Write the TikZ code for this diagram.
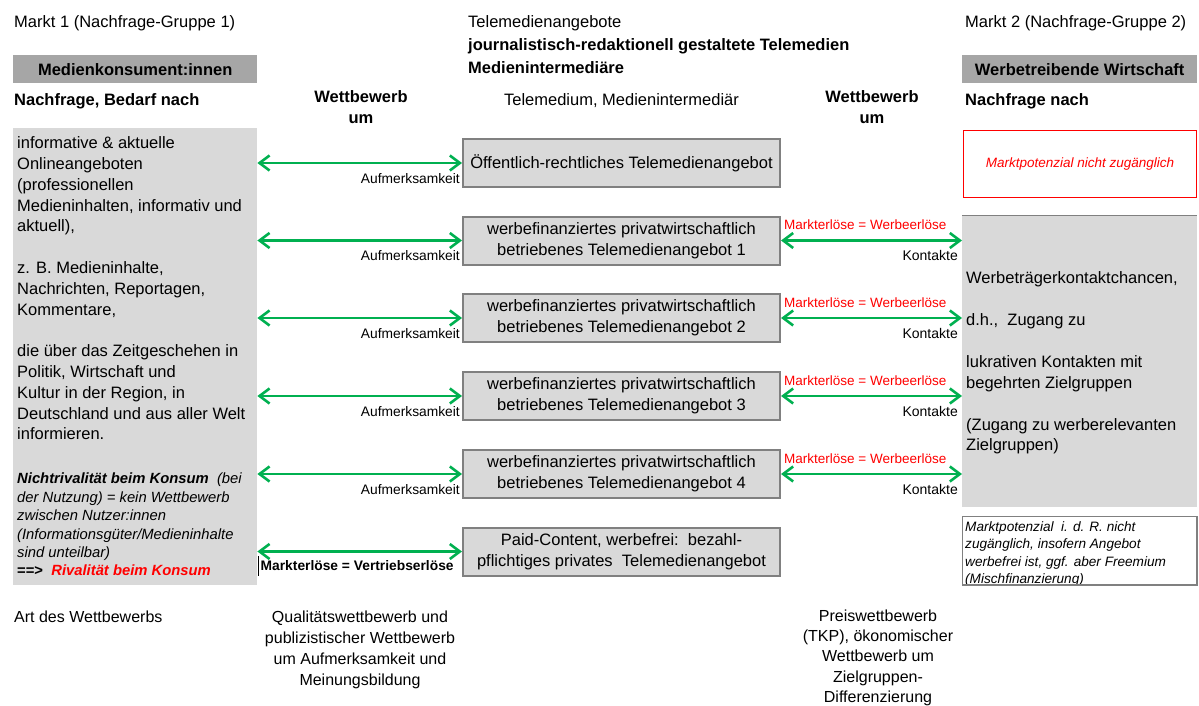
\documentclass[tikz,border=0pt]{standalone}
\usepackage{fontspec}
\setmainfont{Liberation Sans}
\usetikzlibrary{arrows.meta,calc}
\definecolor{ggreen}{HTML}{00B050}
\definecolor{lgray}{HTML}{D9D9D9}
\definecolor{hgray}{HTML}{A6A6A6}
\definecolor{bgray}{HTML}{808080}
\definecolor{mred}{HTML}{FF0000}
\newcommand\fsz[2]{\fontsize{#1}{#2}\selectfont}
\begin{document}
\begin{tikzpicture}[x=1pt,y=-1pt,
  txt/.style={inner sep=0pt, font=\fsz{16.5}{20.8}},
  btxt/.style={inner sep=0pt, font=\fsz{16.5}{21}\bfseries},
  hdr/.style={fill=hgray, minimum width=244pt, minimum height=28pt, inner sep=0pt, font=\fsz{16.5}{20}\bfseries},
  offer/.style={draw=bgray, line width=2pt, fill=lgray, minimum width=317pt, minimum height=48pt, inner sep=0pt, align=center, font=\fsz{16.5}{21}},
  garrow/.style={draw=ggreen, line width=2.6pt, {Straight Barb[length=10pt,width=15pt]}-{Straight Barb[length=10pt,width=15pt]}},
  lab/.style={inner sep=0pt, font=\fsz{13.8}{16}},
  klab/.style={inner sep=0pt, font=\fsz{14}{16}},
  rlab/.style={inner sep=0pt, font=\fsz{13.5}{16}, text=mred},
  panel/.style={fill=lgray, inner sep=0pt, anchor=north west},
]
\useasboundingbox (0,0) rectangle (1199,706);

% ---------- left column ----------
\node[txt, anchor=base west] (mk1) at (14,27.5) {Markt 1 (Nachfrage-Gruppe 1)};
\node[hdr, anchor=north west] (h1) at (13,55) {Medienkonsument:innen};
\node[btxt, anchor=base west] (nf1) at (14,105.5) {Nachfrage, Bedarf nach};
\node[panel, minimum width=244pt, minimum height=457pt] (lbox) at (13,128) {};
\node[txt, align=left, anchor=north west] (lt1) at (17,133.9) {\strut informative \& aktuelle\\Onlineangeboten\\(professionellen\\Medieninhalten, informativ und\\aktuell),\\[20.8pt]z. B. Medieninhalte,\\Nachrichten, Reportagen,\\Kommentare,\\[20.8pt]die über das Zeitgeschehen in\\Politik, Wirtschaft und\\Kultur in der Region, in\\Deutschland und aus aller Welt\\informieren.};
\node[inner sep=0pt, font=\fsz{14.8}{18.4}\itshape, align=left, anchor=north west] (lt2) at (17,470.9) {\strut\textbf{Nichtrivalität beim Konsum}\ \ (bei\\der Nutzung) = kein Wettbewerb\\zwischen Nutzer:innen\\(Informationsgüter/Medieninhalte\\sind unteilbar)\\{\upshape\bfseries ==>}\ \ \textcolor{mred}{\bfseries Rivalität beim Konsum}};

% ---------- middle column ----------
\node[txt, anchor=base west] (tm) at (468,27.5) {Telemedienangebote};
\node[btxt, anchor=base west] (jr) at (468,50.5) {journalistisch-redaktionell gestaltete Telemedien};
\node[btxt, anchor=base west] (mi) at (468,73.5) {Medienintermediäre};
\node[txt, anchor=base] (tmm) at (621.5,105.5) {Telemedium, Medienintermediär};
\node[btxt, align=center, anchor=north] (wb1) at (361,87.8) {\strut Wettbewerb\\um};
\node[btxt, align=center, anchor=north] (wb2) at (872,87.8) {\strut Wettbewerb\\um};

\node[offer] (b1) at (621.5,163) {Öffentlich-rechtliches Telemedienangebot};
\node[offer] (b2) at (621.5,240.5) {werbefinanziertes privatwirtschaftlich\\betriebenes Telemedienangebot 1};
\node[offer] (b3) at (621.5,318) {werbefinanziertes privatwirtschaftlich\\betriebenes Telemedienangebot 2};
\node[offer] (b4) at (621.5,396) {werbefinanziertes privatwirtschaftlich\\betriebenes Telemedienangebot 3};
\node[offer] (b5) at (621.5,474) {werbefinanziertes privatwirtschaftlich\\betriebenes Telemedienangebot 4};
\node[offer] (b6) at (621.5,551.5) {Paid-Content, werbefrei:\ \ bezahl-\\pflichtiges privates\ \ Telemedienangebot};

% ---------- right column ----------
\node[txt, anchor=base west] (mk2) at (965,27.5) {Markt 2 (Nachfrage-Gruppe 2)};
\node[hdr, anchor=north west, minimum width=235pt] (h2) at (962,55) {Werbetreibende Wirtschaft};
\node[btxt, anchor=base west] (nf2) at (965,105.5) {Nachfrage nach};
\node[draw=mred, line width=1.5pt, minimum width=233pt, minimum height=67pt, inner sep=0pt, anchor=north west] (redbox) at (962.75,129.75) {};
\node[inner sep=0pt, font=\fsz{13.5}{16}\itshape, text=mred] (mp) at (redbox.center) {Marktpotenzial nicht zugänglich};
\node[panel, minimum width=235pt, minimum height=292pt] (rbox) at (962,215) {};
\draw[bgray, line width=1pt] (rbox.north west) -- (rbox.north east);
\node[txt, font=\fsz{16.5}{20.9}, align=left, anchor=north west] (rt) at (966,268.9) {\strut Werbeträgerkontaktchancen,\\[20.9pt]d.h.,\ \ Zugang zu\\[20.9pt]lukrativen Kontakten mit\\begehrten Zielgruppen\\[20.9pt](Zugang zu werberelevanten\\Zielgruppen)};

\node[inner sep=0pt, minimum width=234pt, minimum height=68pt, anchor=north west] (wbox) at (962.6,516.6) {};
\begin{scope}
\clip (wbox.north west) rectangle (wbox.south east);
\node[inner sep=0pt, font=\fsz{13.6}{17.3}\itshape, align=left, anchor=north west] (wt) at (965,519.1) {\strut Marktpotenzial\ \ i. d. R. nicht\\zugänglich, insofern Angebot\\werbefrei ist, ggf. aber Freemium\\(Mischfinanzierung)};
\end{scope}
\draw[bgray, line width=1.2pt] (wbox.north west) rectangle (wbox.south east);

% ---------- connectors left ----------
\foreach \b in {b1,b2,b3,b4,b5,b6}{
  \draw[garrow] (lbox.east |- \b.west) -- (\b.west);
}
\foreach \b/\n in {b1/a1,b2/a2,b3/a3,b4/a4,b5/a5}{
  \node[lab, anchor=base east] (\n) at ($(\b.west)+(-2,20.1)$) {Aufmerksamkeit};
}
\node[lab, font=\fsz{13.8}{16}\bfseries, anchor=base west] (ve) at ($(b6.west)+(-201.5,18.6)$) {Markterlöse = Vertriebserlöse};
\draw[black, line width=0.8pt] (258,556) -- (258,576);

% ---------- connectors right ----------
\foreach \b/\n in {b2/2,b3/3,b4/4,b5/5}{
  \draw[garrow] (\b.east) -- (rbox.west |- \b.east);
  \node[rlab, anchor=base west] (r\n) at ($(\b.east)+(3,-11)$) {Markterlöse = Werbeerlöse};
  \node[klab, anchor=base east] (k\n) at ($(rbox.west |- \b.east)+(-4,20.1)$) {Kontakte};
}

% ---------- bottom ----------
\node[txt, font=\fsz{16}{21}, anchor=base west] (aw) at (14,622.5) {Art des Wettbewerbs};
\node[txt, font=\fsz{16}{21}, align=center, anchor=north] (qw) at (360,607.6) {\strut Qualitätswettbewerb und\\publizistischer Wettbewerb\\um Aufmerksamkeit und\\Meinungsbildung};
\node[txt, font=\fsz{16}{20.2}, align=center, anchor=north] (pw) at (878,607.2) {\strut Preiswettbewerb\\(TKP), ökonomischer\\Wettbewerb um\\Zielgruppen-\\Differenzierung};
\end{tikzpicture}
\end{document}
